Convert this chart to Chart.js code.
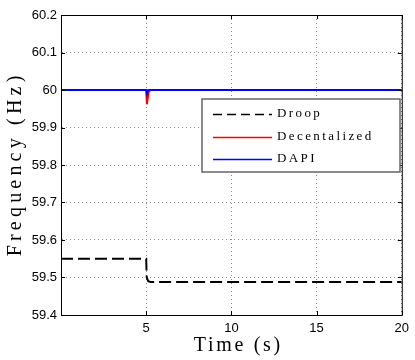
<!DOCTYPE html>
<html>
<head>
<meta charset="utf-8">
<script src="https://cdn.jsdelivr.net/npm/chart.js@4/dist/chart.umd.min.js"></script>
<style>
  html, body { margin: 0; padding: 0; background: #fff; }
  #wrap { width: 415px; height: 360px; position: relative; }
</style>
</head>
<body>
<div id="wrap"><canvas id="freqChart"></canvas></div>
<script>
// values
const droopTime = [0, 5.0, 5.03, 5.12, 5.25, 20];
const droopFreq = [59.55, 59.55, 59.5, 59.49, 59.488, 59.488];

const decTime = [0, 5.0, 5.04, 5.08, 5.15, 5.25, 20];
const decFreq = [60, 60, 59.962, 59.975, 59.995, 60, 60];

const dapiTime = [0, 5.0, 5.05, 5.12, 20];
const dapiFreq = [60, 60, 59.99, 60, 60];

const xTicks = [5, 10, 15, 20];
const seriesLabels = ["Droop", "Decentalized", "DAPI"];

const toXY = (ts, fs) => ts.map((t, i) => ({ x: t, y: fs[i] }));

// frame box + legend + axis titles (letter spaced serif like the original)
const decorPlugin = {
  id: "decor",
  afterDraw(chart) {
    const ctx = chart.ctx;
    const a = chart.chartArea;
    ctx.save();
    ctx.strokeStyle = "#000";
    ctx.lineWidth = 1;
    ctx.strokeRect(a.left + 0.5, a.top + 0.5, a.right - a.left, a.bottom - a.top);

    // small inward ticks on all four edges
    const ys = chart.scales.y;
    ys.ticks.forEach((t) => {
      const py = Math.round(ys.getPixelForValue(t.value)) + 0.5;
      ctx.beginPath();
      ctx.moveTo(a.right, py);
      ctx.lineTo(a.right - 4, py);
      ctx.moveTo(a.left, py);
      ctx.lineTo(a.left + 4, py);
      ctx.stroke();
    });
    const xs = chart.scales.x;
    xTicks.forEach((v) => {
      const px = Math.round(xs.getPixelForValue(v)) + 0.5;
      ctx.beginPath();
      ctx.moveTo(px, a.bottom);
      ctx.lineTo(px, a.bottom - 4);
      ctx.moveTo(px, a.top);
      ctx.lineTo(px, a.top + 4);
      ctx.stroke();
    });

    // legend box
    const lx = 202, ly = 99, lw = 198, lh = 73;
    ctx.fillStyle = "#fff";
    ctx.fillRect(lx, ly, lw, lh);
    ctx.strokeStyle = "#666";
    ctx.lineWidth = 1.5;
    ctx.strokeRect(lx, ly, lw, lh);
    const rows = [114, 137, 159];
    ctx.font = "13px 'Liberation Serif'";
    ctx.letterSpacing = "2.4px";
    ctx.textBaseline = "middle";
    chart.data.datasets.forEach((ds, i) => {
      ctx.beginPath();
      ctx.strokeStyle = ds.borderColor;
      ctx.lineWidth = 1.5;
      ctx.setLineDash(ds.borderDash && ds.borderDash.length ? [9, 5] : []);
      ctx.moveTo(213, rows[i] + 0.5);
      ctx.lineTo(272, rows[i] + 0.5);
      ctx.stroke();
      ctx.setLineDash([]);
      ctx.fillStyle = "#000";
      ctx.textAlign = "left";
      ctx.fillText(ds.label, 277, rows[i]);
    });

    // axis titles
    ctx.font = "20px 'Liberation Serif'";
    ctx.fillStyle = "#000";
    ctx.textAlign = "center";
    ctx.textBaseline = "middle";
    ctx.letterSpacing = "2.7px";
    ctx.fillText("Time (s)", 237 + 1.3, 346);
    ctx.letterSpacing = "4.2px";
    ctx.translate(16, 166);
    ctx.rotate(-Math.PI / 2);
    ctx.fillText("Frequency (Hz)", 2.1, 0);
    ctx.restore();
  },
};

new Chart(document.getElementById("freqChart"), {
  type: "line",
  data: {
    datasets: [
      {
        label: seriesLabels[0],
        data: toXY(droopTime, droopFreq),
        borderColor: "#000",
        borderWidth: 2,
        borderDash: [12, 5],
        pointRadius: 0,
        order: 2,
      },
      {
        label: seriesLabels[1],
        data: toXY(decTime, decFreq),
        borderColor: "#ff0000",
        borderWidth: 2,
        pointRadius: 0,
        order: 1,
      },
      {
        label: seriesLabels[2],
        data: toXY(dapiTime, dapiFreq),
        borderColor: "#0000ff",
        borderWidth: 2,
        pointRadius: 0,
        order: 0,
      },
    ],
  },
  options: {
    responsive: true,
    maintainAspectRatio: false,
    animation: false,
    layout: { padding: { top: 15, right: 13, left: 0, bottom: 0 } },
    plugins: {
      legend: { display: false },
      tooltip: { enabled: false },
    },
    scales: {
      x: {
        type: "linear",
        min: 0,
        max: 20,
        afterFit: (s) => { s.height = 45; },
        afterBuildTicks: (s) => { s.ticks = xTicks.map((v) => ({ value: v })); },
        ticks: {
          color: "#000",
          font: { family: "'Liberation Sans'", size: 13 },
          padding: 6,
          maxRotation: 0,
        },
        grid: {
          drawTicks: false,
          color: "#8a8a8a",
          lineWidth: 1,
        },
        border: { display: true, color: "#000", dash: [1, 3] },
      },
      y: {
        min: 59.4,
        max: 60.2,
        afterFit: (s) => { s.width = 61; },
        ticks: {
          stepSize: 0.1,
          color: "#000",
          font: { family: "'Liberation Sans'", size: 13 },
          padding: 4,
          callback: (v) => String(Math.round(v * 10) / 10),
        },
        grid: {
          drawTicks: false,
          color: "#8a8a8a",
          lineWidth: 1,
        },
        border: { display: true, color: "#000", dash: [1, 3] },
      },
    },
  },
  plugins: [decorPlugin],
});
</script>
</body>
</html>
